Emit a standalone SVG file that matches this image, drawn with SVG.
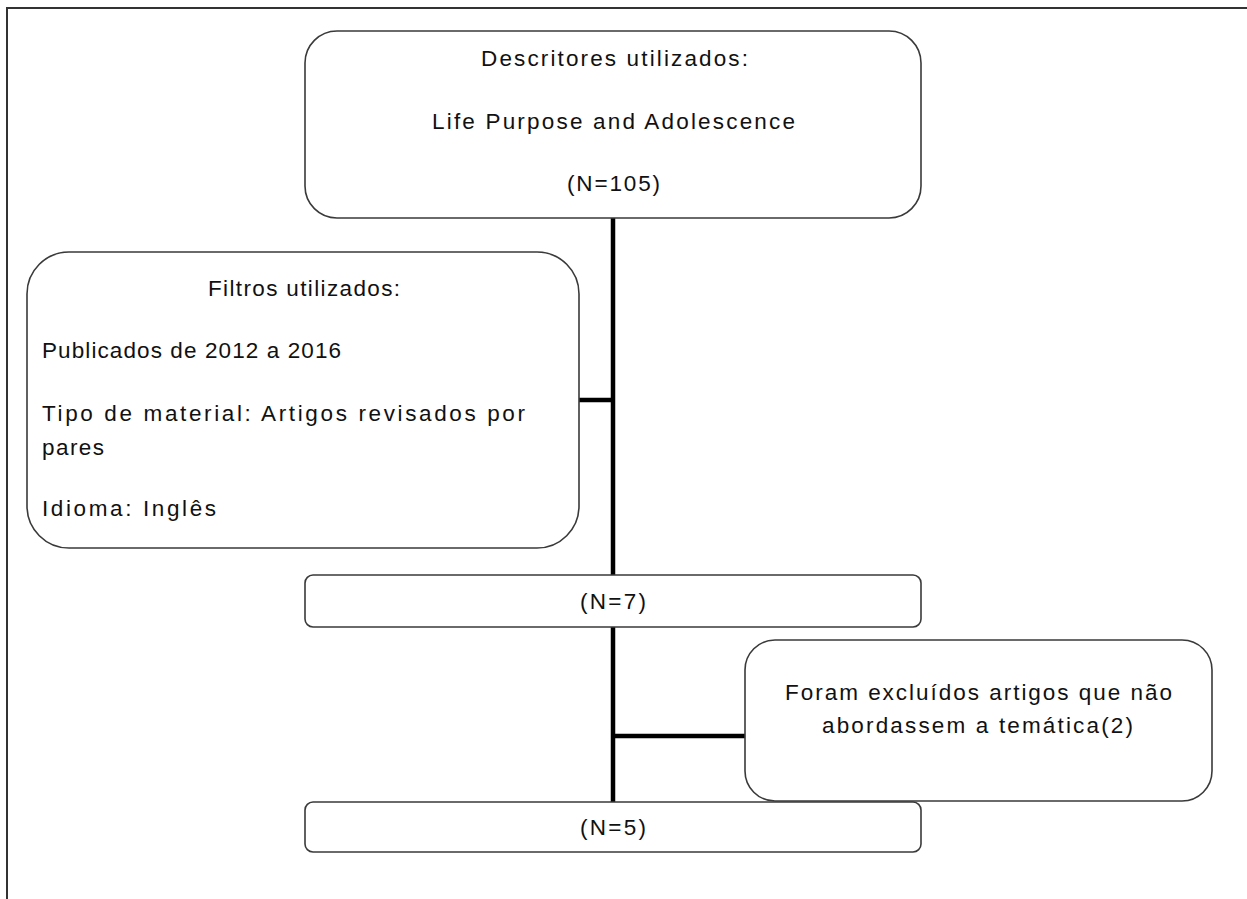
<svg xmlns="http://www.w3.org/2000/svg" width="1247" height="899" viewBox="0 0 1247 899">
<style>
.box{fill:#fff;stroke:#3a3a3a;stroke-width:1.6}
.t{font-family:"Liberation Sans",Arial,sans-serif;font-size:22.5px;fill:#111}
.conn{stroke:#000;stroke-width:4.5;fill:none}
.frame{stroke:#333;stroke-width:2;fill:none}
</style>
<rect width="1247" height="899" fill="#fff"/>
<path class="frame" d="M7,899 V8 H1247"/>
<g id="connectors">
<line class="conn" x1="613" y1="218" x2="613" y2="576"/>
<line class="conn" x1="579" y1="400" x2="613" y2="400"/>
<line class="conn" x1="613" y1="627" x2="613" y2="803"/>
<line class="conn" x1="613" y1="736" x2="746" y2="736"/>
</g>
<g id="n1">
<rect class="box" x="305" y="31" width="616" height="187" rx="32"/>
<text class="t" x="481" y="66" textLength="267" lengthAdjust="spacing">Descritores utilizados:</text>
<text class="t" x="432" y="129" textLength="363" lengthAdjust="spacing">Life Purpose and Adolescence</text>
<text class="t" x="567" y="191" textLength="93" lengthAdjust="spacing">(N=105)</text>
</g>
<g id="n2">
<rect class="box" x="27" y="252" width="552" height="296" rx="42"/>
<text class="t" x="208" y="296" textLength="192" lengthAdjust="spacing">Filtros utilizados:</text>
<text class="t" x="42" y="358" textLength="299" lengthAdjust="spacing">Publicados de 2012 a 2016</text>
<text class="t" x="42" y="421" textLength="483" lengthAdjust="spacing">Tipo de material: Artigos revisados por</text>
<text class="t" x="42" y="455" textLength="62" lengthAdjust="spacing">pares</text>
<text class="t" x="42" y="516" textLength="174" lengthAdjust="spacing">Idioma: Inglês</text>
</g>
<g id="n3">
<rect class="box" x="305" y="575" width="616" height="52" rx="8"/>
<text class="t" x="580" y="609" textLength="66" lengthAdjust="spacing">(N=7)</text>
</g>
<g id="n4">
<rect class="box" x="745" y="640" width="467" height="161" rx="30"/>
<text class="t" x="785" y="700" textLength="387" lengthAdjust="spacing">Foram excluídos artigos que não</text>
<text class="t" x="822" y="733" textLength="311" lengthAdjust="spacing">abordassem a temática(2)</text>
</g>
<g id="n5">
<rect class="box" x="305" y="802" width="616" height="50" rx="8"/>
<text class="t" x="580" y="835" textLength="66" lengthAdjust="spacing">(N=5)</text>
</g>
</svg>
